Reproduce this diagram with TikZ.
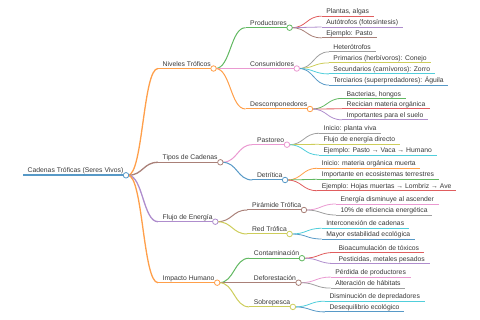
\documentclass[tikz,border=0pt]{standalone}
\usepackage{fontspec}
\setmainfont{Liberation Sans}
\usepackage{tikz}
\usetikzlibrary{positioning,calc,backgrounds}
\definecolor{mmblue}{RGB}{87,153,199}
\definecolor{mmorange}{RGB}{255,159,74}
\definecolor{mmgreen}{RGB}{97,184,97}
\definecolor{mmred}{RGB}{224,93,94}
\definecolor{mmpurple}{RGB}{175,141,205}
\definecolor{mmbrown}{RGB}{169,128,120}
\definecolor{mmpink}{RGB}{234,153,209}
\definecolor{mmgray}{RGB}{159,159,159}
\definecolor{mmolive}{RGB}{205,205,90}
\definecolor{mmcyan}{RGB}{81,206,219}
\colorlet{labeltext}{black!78}

\begin{document}
\begin{tikzpicture}[x=1pt,y=-1pt,
    every node/.style={font=\fontsize{6.8}{8}\selectfont,text=labeltext},
    leaf/.style={anchor=south west,inner xsep=4.5pt,inner ysep=0.6pt,text height=5pt,text depth=1.5pt,
      append after command={(\tikzlastnode.south west) edge[draw=#1,line width=0.8pt] (\tikzlastnode.south east)}},
    hub/.style 2 args={anchor=south west,inner xsep=4.5pt,inner ysep=0.6pt,text height=5pt,text depth=1.5pt,
      append after command={(\tikzlastnode.south west) edge[draw=#1,line width=#2] ([xshift=-4.7pt]\tikzlastnode.south east)
        ([xshift=-2pt]\tikzlastnode.south east) node[circle,draw=#1,fill=white,line width=0.8pt,inner sep=0pt,minimum size=5.5pt]{}}},
    branch/.style={draw=#1,line width=0.8pt,
      to path={.. controls ($(\tikztostart)+(15,0)$) and ($(\tikztotarget)+(-15,0)$) .. (\tikztotarget)}}]
  \useasboundingbox (0,0) rectangle (480,320);
  \node[hub={mmblue}{1.8pt}] (root) at (23,175.3) {Cadenas Tróficas (Seres Vivos)};

  \node[hub={mmorange}{1.3pt}] (niv) at ($(root.south east)+(30,-106.8)$) {Niveles Tróficos};
  \node[hub={mmbrown}{1.3pt}] (tip) at ($(root.south east)+(30,-13)$) {Tipos de Cadenas};
  \node[hub={mmpurple}{1.3pt}] (flu) at ($(root.south east)+(30,46.4)$) {Flujo de Energía};
  \node[hub={mmorange}{1.3pt}] (imp) at ($(root.south east)+(30,107.4)$) {Impacto Humano};

  \node[hub={mmgreen}{1pt}] (prod) at ($(niv.south east)+(30,-40.8)$) {Productores};
  \node[hub={mmpink}{1pt}] (cons) at ($(niv.south east)+(30,0)$) {Consumidores};
  \node[hub={mmorange}{1pt}] (desc) at ($(niv.south east)+(30,40.5)$) {Descomponedores};
  \node[hub={mmpink}{1pt}] (past) at ($(tip.south east)+(30,-17.6)$) {Pastoreo};
  \node[hub={mmblue}{1pt}] (detr) at ($(tip.south east)+(30,17.7)$) {Detrítica};
  \node[hub={mmbrown}{1pt}] (pira) at ($(flu.south east)+(30,-11.7)$) {Pirámide Trófica};
  \node[hub={mmolive}{1pt}] (red) at ($(flu.south east)+(30,12.3)$) {Red Trófica};
  \node[hub={mmgreen}{1pt}] (cont) at ($(imp.south east)+(30,-24.5)$) {Contaminación};
  \node[hub={mmbrown}{1pt}] (defo) at ($(imp.south east)+(30,0)$) {Deforestación};
  \node[hub={mmolive}{1pt}] (sobr) at ($(imp.south east)+(30,24.2)$) {Sobrepesca};

  \node[leaf=mmred] (prod1) at ($(prod.south east)+(30,-11.5)$) {Plantas, algas};
  \node[leaf=mmpurple] (prod2) at ($(prod.south east)+(30,-0.7)$) {Autótrofos (fotosíntesis)};
  \node[leaf=mmbrown] (prod3) at ($(prod.south east)+(30,10.2)$) {Ejemplo: Pasto};
  \node[leaf=mmgray] (cons1) at ($(cons.south east)+(30,-16.6)$) {Heterótrofos};
  \node[leaf=mmolive] (cons2) at ($(cons.south east)+(30,-5.6)$) {Primarios (herbívoros): Conejo};
  \node[leaf=mmcyan] (cons3) at ($(cons.south east)+(30,5.4)$) {Secundarios (carnívoros): Zorro};
  \node[leaf=mmblue] (cons4) at ($(cons.south east)+(30,16.6)$) {Terciarios (superpredadores): Águila};
  \node[leaf=mmgreen] (desc1) at ($(desc.south east)+(30,-10.6)$) {Bacterias, hongos};
  \node[leaf=mmred] (desc2) at ($(desc.south east)+(30,-0.2)$) {Recician materia orgánica};
  \node[leaf=mmpurple] (desc3) at ($(desc.south east)+(30,10.8)$) {Importantes para el suelo};
  \node[leaf=mmgray] (past1) at ($(past.south east)+(30,-11.4)$) {Inicio: planta viva};
  \node[leaf=mmolive] (past2) at ($(past.south east)+(30,-0.4)$) {Flujo de energía directo};
  \node[leaf=mmcyan] (past3) at ($(past.south east)+(30,10.3)$) {Ejemplo: Pasto → Vaca → Humano};
  \node[leaf=mmorange] (detr1) at ($(detr.south east)+(30,-11.7)$) {Inicio: materia orgánica muerta};
  \node[leaf=mmgreen] (detr2) at ($(detr.south east)+(30,-0.7)$) {Importante en ecosistemas terrestres};
  \node[leaf=mmred] (detr3) at ($(detr.south east)+(30,10.7)$) {Ejemplo: Hojas muertas → Lombriz → Ave};
  \node[leaf=mmpink] (pira1) at ($(pira.south east)+(30,-6)$) {Energía disminuye al ascender};
  \node[leaf=mmgray] (pira2) at ($(pira.south east)+(30,5)$) {10\% de eficiencia energética};
  \node[leaf=mmcyan] (red1) at ($(red.south east)+(30,-5.7)$) {Interconexión de cadenas};
  \node[leaf=mmblue] (red2) at ($(red.south east)+(30,5)$) {Mayor estabilidad ecológica};
  \node[leaf=mmred] (cont1) at ($(cont.south east)+(30,-5.7)$) {Bioacumulación de tóxicos};
  \node[leaf=mmpurple] (cont2) at ($(cont.south east)+(30,5.3)$) {Pesticidas, metales pesados};
  \node[leaf=mmpink] (defo1) at ($(defo.south east)+(30,-5.6)$) {Pérdida de productores};
  \node[leaf=mmgray] (defo2) at ($(defo.south east)+(30,5.4)$) {Alteración de hábitats};
  \node[leaf=mmcyan] (sobr1) at ($(sobr.south east)+(30,-5.7)$) {Disminución de depredadores};
  \node[leaf=mmblue] (sobr2) at ($(sobr.south east)+(30,5)$) {Desequilibrio ecológico};

  \begin{scope}[on background layer]
    \draw[branch=mmorange,line width=1.3pt] (root.south east) to (niv.south west);
    \draw[branch=mmbrown,line width=1.3pt] (root.south east) to (tip.south west);
    \draw[branch=mmpurple,line width=1.3pt] (root.south east) to (flu.south west);
    \draw[branch=mmorange,line width=1.3pt] (root.south east) to (imp.south west);
    \draw[branch=mmgreen,line width=1pt] (niv.south east) to (prod.south west);
    \draw[branch=mmpink,line width=1pt] (niv.south east) to (cons.south west);
    \draw[branch=mmorange,line width=1pt] (niv.south east) to (desc.south west);
    \draw[branch=mmpink,line width=1pt] (tip.south east) to (past.south west);
    \draw[branch=mmblue,line width=1pt] (tip.south east) to (detr.south west);
    \draw[branch=mmbrown,line width=1pt] (flu.south east) to (pira.south west);
    \draw[branch=mmolive,line width=1pt] (flu.south east) to (red.south west);
    \draw[branch=mmgreen,line width=1pt] (imp.south east) to (cont.south west);
    \draw[branch=mmbrown,line width=1pt] (imp.south east) to (defo.south west);
    \draw[branch=mmolive,line width=1pt] (imp.south east) to (sobr.south west);
    \draw[branch=mmred] (prod.south east) to (prod1.south west);
    \draw[branch=mmpurple] (prod.south east) to (prod2.south west);
    \draw[branch=mmbrown] (prod.south east) to (prod3.south west);
    \draw[branch=mmgray] (cons.south east) to (cons1.south west);
    \draw[branch=mmolive] (cons.south east) to (cons2.south west);
    \draw[branch=mmcyan] (cons.south east) to (cons3.south west);
    \draw[branch=mmblue] (cons.south east) to (cons4.south west);
    \draw[branch=mmgreen] (desc.south east) to (desc1.south west);
    \draw[branch=mmred] (desc.south east) to (desc2.south west);
    \draw[branch=mmpurple] (desc.south east) to (desc3.south west);
    \draw[branch=mmgray] (past.south east) to (past1.south west);
    \draw[branch=mmolive] (past.south east) to (past2.south west);
    \draw[branch=mmcyan] (past.south east) to (past3.south west);
    \draw[branch=mmorange] (detr.south east) to (detr1.south west);
    \draw[branch=mmgreen] (detr.south east) to (detr2.south west);
    \draw[branch=mmred] (detr.south east) to (detr3.south west);
    \draw[branch=mmpink] (pira.south east) to (pira1.south west);
    \draw[branch=mmgray] (pira.south east) to (pira2.south west);
    \draw[branch=mmcyan] (red.south east) to (red1.south west);
    \draw[branch=mmblue] (red.south east) to (red2.south west);
    \draw[branch=mmred] (cont.south east) to (cont1.south west);
    \draw[branch=mmpurple] (cont.south east) to (cont2.south west);
    \draw[branch=mmpink] (defo.south east) to (defo1.south west);
    \draw[branch=mmgray] (defo.south east) to (defo2.south west);
    \draw[branch=mmcyan] (sobr.south east) to (sobr1.south west);
    \draw[branch=mmblue] (sobr.south east) to (sobr2.south west);
  \end{scope}
\end{tikzpicture}
\end{document}
